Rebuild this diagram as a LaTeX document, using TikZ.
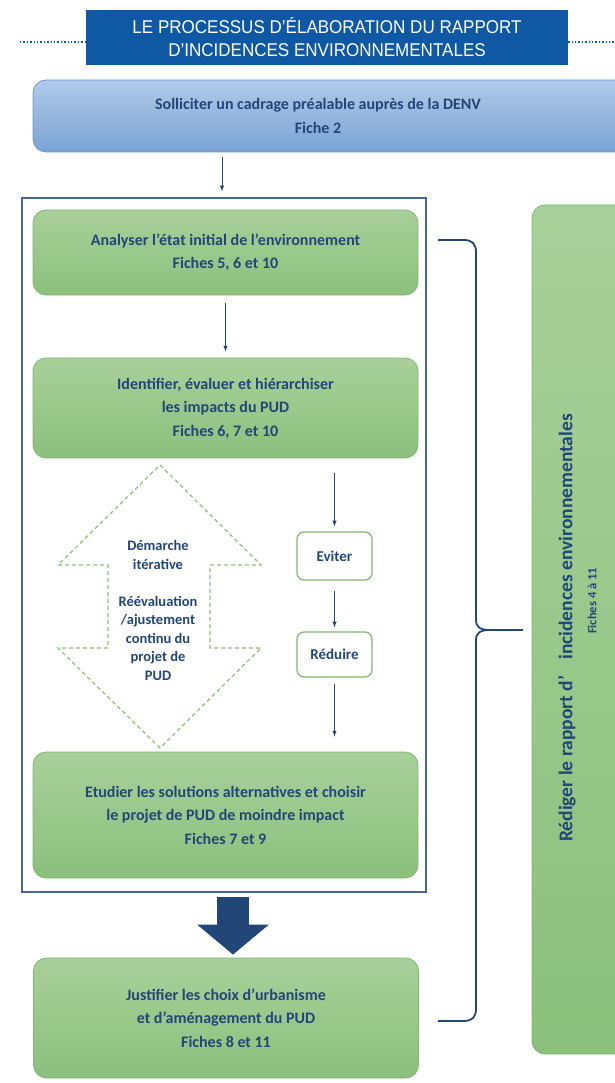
\documentclass[tikz,border=0pt]{standalone}
\usepackage{fontspec}
\setmainfont{Carlito}
\newfontfamily\bannerfont{Liberation Sans}[FakeStretch=0.92]
\usetikzlibrary{arrows.meta}
\definecolor{navy}{RGB}{35,70,120}
\definecolor{greentop}{RGB}{168,208,154}
\definecolor{greenbot}{RGB}{139,192,125}
\definecolor{greenline}{RGB}{128,182,112}
\definecolor{bluetop}{RGB}{176,202,232}
\definecolor{bluebot}{RGB}{122,163,212}
\definecolor{blueline}{RGB}{112,150,200}
\definecolor{framecol}{RGB}{72,102,148}
\definecolor{bannerblue}{RGB}{14,88,164}
\definecolor{dashgreen}{RGB}{140,192,120}
\begin{document}
\begin{tikzpicture}[x=1pt,y=-1pt,
	greenbox/.style={draw=greenline,line width=.8pt,rounded corners=13pt,top color=greentop,bottom color=greenbot,minimum width=385pt,align=center,text=navy,font=\bfseries\fontsize{16}{23.5}\selectfont},
	smallbox/.style={draw=greenline,line width=1.2pt,rounded corners=7pt,fill=white,minimum width=75pt,text=navy,font=\bfseries\fontsize{15}{17}\selectfont},
	txt/.style={align=center,text=navy,font=\bfseries\fontsize{16}{24}\selectfont},
	itertxt/.style={align=center,text=navy,font=\bfseries\fontsize{14.5}{18.5}\selectfont},
	arr/.style={draw=navy,line width=1pt,-latex},
	brace/.style={draw=navy,line width=1.8pt},
	dotline/.style={draw=bannerblue,line width=1.4pt,dotted},
	iterarrow/.style={draw=dashgreen,line width=1.2pt,dash pattern=on 4pt off 3pt}]
	\fill[white] (0,0) rectangle (614,1083);
	\useasboundingbox (0,0) rectangle (614,1083);

	\node[fill=bannerblue,minimum width=482pt,minimum height=55pt,align=center,text=white,font=\bannerfont\fontsize{18.5}{23}\selectfont] (titre) at (327,37.5) {LE PROCESSUS D’ÉLABORATION DU RAPPORT\\D’INCIDENCES ENVIRONNEMENTALES};
	\coordinate (dotl) at (20,42);	\coordinate (dotr) at (614,42);
	\draw[dotline] (dotl) -- (dotl -| titre.west);
	\draw[dotline] (dotr -| titre.east) -- (dotr);

	\node[draw=blueline,line width=.8pt,rounded corners=13pt,top color=bluetop,bottom color=bluebot,minimum width=600pt,minimum height=72pt] (cadrage) at (333,116) {};
	\node[txt] (cadragetxt) at (318,116) {Solliciter un cadrage préalable auprès de la DENV\\Fiche 2};

	\node[draw=framecol,line width=1.3pt,minimum width=404pt,minimum height=694pt] (frame) at (224,545) {};
	\coordinate (c0) at (222,157);
	\draw[arr,shorten >=6pt] (c0) -- (c0 |- frame.north);

	\node[greenbox,minimum height=85pt] (analyse) at (225.5,252.5) {Analyser l’état initial de l’environnement\\Fiches 5, 6 et 10};
	\node[greenbox,minimum height=100pt] (identif) at (225.5,408) {Identifier, évaluer et hiérarchiser\\les impacts du PUD\\Fiches 6, 7 et 10};
	\draw[arr,shorten <=8pt,shorten >=6pt] (analyse.south) -- (identif.north);

	\draw[iterarrow] (160,465) -- (261,565) -- (210,565) -- (210,648) -- (261,648) -- (160,748) -- (58,648) -- (108,648) -- (108,565) -- (58,565) -- cycle;
	\node[itertxt] (demarche) at (158,555) {Démarche\\itérative};
	\node[itertxt] (reeval) at (158,638) {Réévaluation\\/ajustement\\continu du\\projet de\\PUD};

	\node[smallbox,minimum height=48pt] (eviter) at (334.5,556) {Eviter};
	\node[smallbox,minimum height=45pt] (reduire) at (334.5,654.5) {Réduire};
	\node[greenbox,minimum height=126pt] (etudier) at (225.5,815) {Etudier les solutions alternatives et choisir\\le projet de PUD de moindre impact\\Fiches 7 et 9};
	\draw[arr,shorten <=15pt,shorten >=5pt] (identif.south -| eviter.north) -- (eviter.north);
	\draw[arr,shorten <=10pt,shorten >=4pt] (eviter.south) -- (reduire.north);
	\draw[arr,shorten <=6pt,shorten >=15pt] (reduire.south) -- (reduire.south |- etudier.north);

	\node[greenbox,minimum height=120pt] (justif) at (226,1018) {Justifier les choix d’urbanisme\\et d’aménagement du PUD\\Fiches 8 et 11};
	\coordinate (ba) at (233,897);
	\draw[line width=32pt,draw=navy,-{Triangle[width=70pt,length=30pt]},shorten >=3pt] (ba) -- (ba |- justif.north);

	\coordinate (bt) at (438,240);	\coordinate (tip) at (523,630);	\coordinate (bb) at (438,1021);
	\draw[brace] (bt) -- (464,240) .. controls (472,240) and (476,244) .. (476,252) -- (476,620) .. controls (476,627) and (480,630) .. (490,630) -- (tip);
	\draw[brace] (490,630) .. controls (480,630) and (476,633) .. (476,640) -- (476,1009) .. controls (476,1017) and (472,1021) .. (464,1021) -- (bb);

	\node[draw=greenline,line width=.8pt,rounded corners=13pt,top color=greentop,bottom color=greenbot,minimum width=110pt,minimum height=849pt] (rediger) at (587,629.5) {};
	\node[txt,rotate=90,font=\bfseries\fontsize{19.5}{22}\selectfont] (redigertxt) at (567,628) {Rédiger le rapport d’\hspace{16pt}incidences environnementales};
	\node[txt,rotate=90,font=\bfseries\fontsize{12.5}{14}\selectfont] (fiches) at (592,601) {Fiches 4 à 11};
\end{tikzpicture}
\end{document}
